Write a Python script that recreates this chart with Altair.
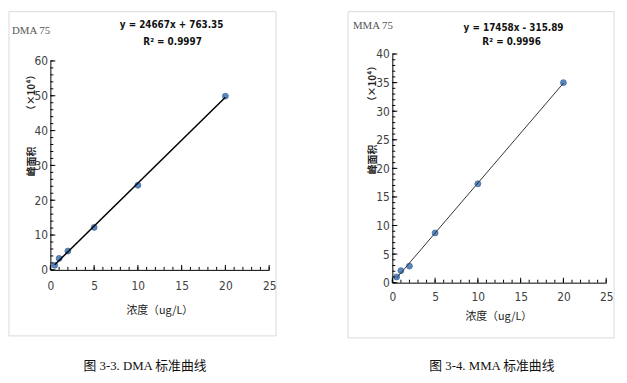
import altair as alt
import pandas as pd

# ---- data ----
conc = [0.5, 1, 2, 5, 10, 20]
dma_area = [1.3, 3.3, 5.4, 12.2, 24.3, 49.9]   # peak area (x10^4)
mma_area = [1.0, 2.1, 2.9, 8.7, 17.3, 35.0]

x_major = [0, 5, 10, 15, 20, 25]
x_minor = list(range(0, 26, 1))
dma_y_major = [0, 10, 20, 30, 40, 50, 60]
dma_y_minor = list(range(0, 61, 2))
mma_y_major = [0, 5, 10, 15, 20, 25, 30, 35, 40]
mma_y_minor = list(range(0, 41, 1))

dma_eq = "y = 24667x + 763.35"
dma_r2 = "R² = 0.9997"
mma_eq = "y = 17458x - 315.89"
mma_r2 = "R² = 0.9996"

NUM_FONT = "DejaVu Sans Condensed"
CJK_FONT = "Noto Sans CJK SC"
CAP_FONT = "Liberation Serif, Noto Sans CJK SC"


def txt(s, x, y, font, size, color="#222", weight="normal", align="center", angle=0):
    kw = dict(font=font, fontSize=size, color=color, fontWeight=weight,
              align=align, baseline="middle")
    if angle:
        kw["angle"] = angle
    return alt.Chart(pd.DataFrame({"t": [s]})).mark_text(**kw).encode(
        text="t:N", x=alt.value(x), y=alt.value(y))


def panel(name, yvals, ymax, ymaj, ymin, eq, r2, caption, W, H, y_top, box, pos, lw,
          lcol, xlab_pad):
    xs = alt.Scale(domain=[0, 25], nice=False)
    ys = alt.Scale(domain=[0, ymax], nice=False, range=[H, y_top])
    ax_x = alt.Axis(
        values=x_major, ticks=False, grid=False, domainColor="black",
        domainWidth=1, labelFont=NUM_FONT, labelFontSize=12, labelColor="#404040",
        labelPadding=xlab_pad, labelOverlap=False, labelFlush=False,
        title=None, zindex=1)
    ax_y = alt.Axis(
        values=ymaj, ticks=False, grid=False, domainColor="black",
        domainWidth=1, labelFont=NUM_FONT, labelFontSize=12, labelColor="#404040",
        labelPadding=3, labelOverlap=False, labelFlush=False,
        title=None, zindex=1)
    df = pd.DataFrame({"x": conc, "y": yvals})

    bx0, bx1, by0, by1 = box
    frame = alt.Chart(pd.DataFrame({"a": [0]})).mark_rect(
        fill="white", fillOpacity=0, stroke="#d9d9d9", strokeWidth=1).encode(
        x=alt.value(bx0), x2=alt.value(bx1), y=alt.value(by0), y2=alt.value(by1))

    pts = alt.Chart(df).mark_point(
        filled=True, size=36, color="#4F81BD", stroke="#3A66A0", strokeWidth=0.8,
        opacity=0.95).encode(
        x=alt.X("x:Q", scale=xs, axis=ax_x),
        y=alt.Y("y:Q", scale=ys, axis=ax_y))

    line = alt.Chart(df).transform_regression("x", "y").mark_line(
        color=lcol, strokeWidth=lw).encode(
        x=alt.X("x:Q", scale=xs, axis=ax_x), y=alt.Y("y:Q", scale=ys, axis=ax_y))

    xmaj_t = alt.Chart(pd.DataFrame({"t": x_major})).mark_rule(color="black").encode(
        x=alt.X("t:Q", scale=xs, axis=ax_x), y=alt.value(H), y2=alt.value(H - 5))
    xmin_t = alt.Chart(pd.DataFrame({"t": x_minor})).mark_rule(color="black").encode(
        x=alt.X("t:Q", scale=xs, axis=ax_x), y=alt.value(H), y2=alt.value(H - 3))
    ymaj_t = alt.Chart(pd.DataFrame({"t": ymaj})).mark_rule(color="black").encode(
        y=alt.Y("t:Q", scale=ys, axis=ax_y), x=alt.value(0), x2=alt.value(5))
    ymin_t = alt.Chart(pd.DataFrame({"t": ymin})).mark_rule(color="black").encode(
        y=alt.Y("t:Q", scale=ys, axis=ax_y), x=alt.value(0), x2=alt.value(3))

    p = pos
    texts = [
        txt(name, p["name"][0], p["name"][1], "Liberation Serif", 11, "#555", align="left"),
        txt(eq, p["eq"][0], p["eq"][1], NUM_FONT, 10, "#111", "bold"),
        txt(r2, p["r2"][0], p["r2"][1], NUM_FONT, 10, "#111", "bold"),
        txt("峰面积", p["yt1"][0], p["yt1"][1], CJK_FONT, 10, "#222", "bold", angle=270),
        txt("（×10⁴）", p["yt2"][0], p["yt2"][1], CJK_FONT, 10, "#222", "bold", angle=270),
        txt("浓度（ug/L）", p["xt"][0], p["xt"][1], CJK_FONT, 11, "#222"),
        txt(caption, p["cap"][0], p["cap"][1], CAP_FONT, 13, "#111"),
    ]

    return alt.layer(frame, pts, xmin_t, xmaj_t, ymin_t, ymaj_t, line, *texts).properties(
        width=W, height=H)


# both plot areas start at page y=50; the DMA y scale starts 7px lower
left = panel(
    "DMA 75", dma_area, 60, dma_y_major, dma_y_minor, dma_eq, dma_r2,
    "图 3-3. DMA 标准曲线", 222, 219, 7, (-42, 229, -43, 286),
    {"name": (-39, -23), "eq": (123, -29), "r2": (124, -12),
     "yt1": (-19, 109), "yt2": (-19, 39), "xt": (111, 261), "cap": (96, 317)},
    1.5, "black", 11)

right = panel(
    "MMA 75", mma_area, 40, mma_y_major, mma_y_minor, mma_eq, mma_r2,
    "图 3-4. MMA 标准曲线", 217, 232, 0, (-45, 225, -43, 288),
    {"name": (-40, -28), "eq": (123, -26), "r2": (121, -12),
     "yt1": (-20, 107), "yt2": (-20, 30), "xt": (108, 267), "cap": (101, 317)},
    1.0, "#333", 9)

chart = alt.hconcat(left, right, spacing=71).properties(
    padding={"left": 0, "top": 0, "right": 4, "bottom": 2},
    background="white",
).configure_view(stroke=None)

chart.save("out.html", embed_options={"renderer": "svg", "actions": False})
